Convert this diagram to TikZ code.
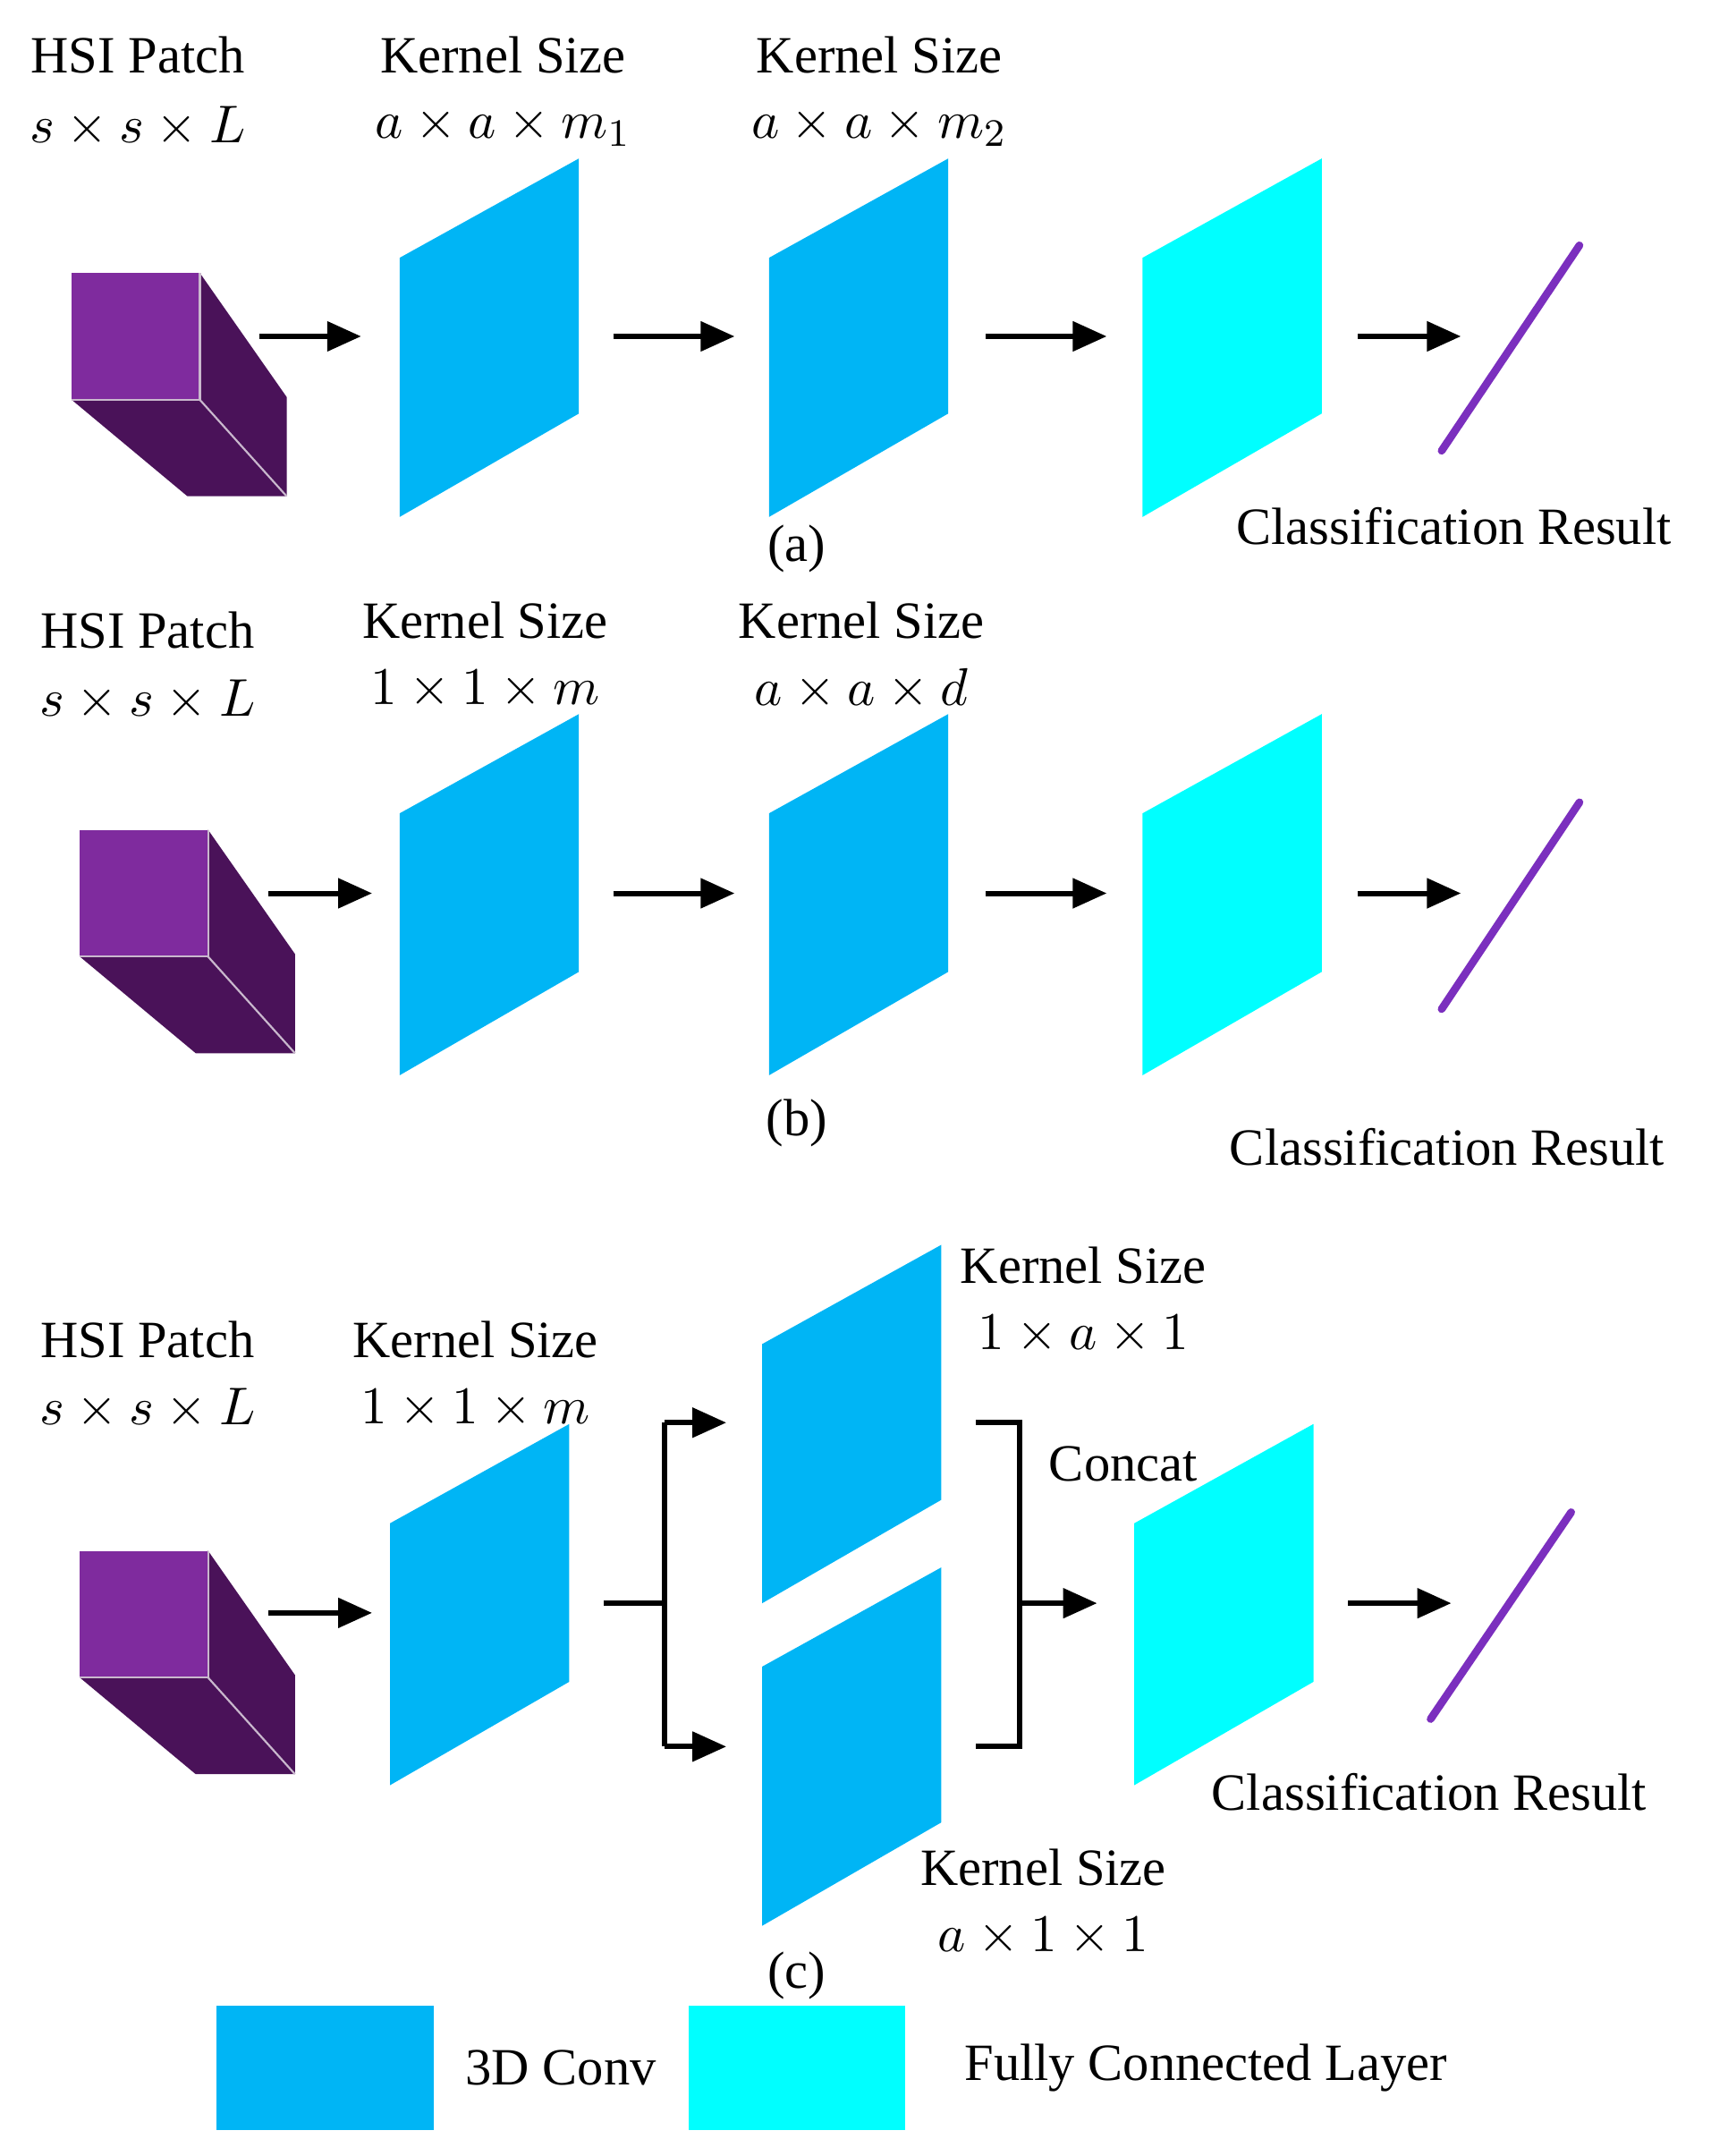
\documentclass[tikz,border=0pt]{standalone}
\usepackage{fontspec}
\setmainfont{Liberation Serif}
\usetikzlibrary{arrows.meta}
\definecolor{conv}{HTML}{00B5F5}
\definecolor{fc}{HTML}{00FFFF}
\definecolor{cubeF}{HTML}{7F2B9E}
\definecolor{cubeD}{HTML}{4A1259}
\definecolor{res}{HTML}{7B2FBE}
\begin{document}
\begin{tikzpicture}[x=0.01cm,y=-0.01cm,
  lbl/.style={font=\fontsize{10.8}{13}\selectfont,inner sep=0pt},
  arr/.style={line width=1.1pt,-{Triangle[length=7pt,width=6pt]}},
  ln/.style={line width=1.1pt},
  resl/.style={res,line width=1.6pt,line cap=round}]
\useasboundingbox (0,0) rectangle (1241,1564);
% cube macro
\newcommand{\mycube}[2]{%
 \begin{scope}[shift={(#1,#2)}]
  \fill[cubeD] (93,0) -- (156,90) -- (156,162) -- (84,162) -- (0,92) -- cycle;
  \fill[cubeF] (0,0) rectangle (93,92);
  \draw[white!70!cubeD,line width=0.4pt] (93,92) -- (156,162);
  \draw[white!70!cubeD,line width=0.4pt] (93,0) -- (93,92) -- (0,92);
 \end{scope}}
\newcommand{\para}[4]{\fill[#1] (#2,#3+72) -- (#2+130,#3) -- (#2+130,#3+#4-75) -- (#2,#3+#4) -- cycle;}
% ===== (a)
\mycube{52}{198}
\para{conv}{290}{115}{260}
\para{conv}{558}{115}{260}
\para{fc}{829}{115}{260}
\coordinate (a1) at (188,244); \coordinate (a2) at (262,244);
\coordinate (a3) at (445,244); \coordinate (a4) at (533,244);
\coordinate (a5) at (715,244); \coordinate (a6) at (803,244);
\coordinate (a7) at (985,244); \coordinate (a8) at (1060,244);
\draw[arr] (a1) -- (a2); \draw[arr] (a3) -- (a4); \draw[arr] (a5) -- (a6); \draw[arr] (a7) -- (a8);
\coordinate (ra) at (1046,327); \coordinate (rb) at (1146,178);
\draw[resl] (ra) -- (rb);
\node[lbl] (ta1) at (100,40) {HSI Patch};
\node[lbl] (ta2) at (100,92) {$s\times s\times L$};
\node[lbl] (ta3) at (365,40) {Kernel Size};
\node[lbl] (ta4) at (365,92) {$a\times a\times m_1$};
\node[lbl] (ta5) at (638,40) {Kernel Size};
\node[lbl] (ta6) at (638,92) {$a\times a\times m_2$};
\node[lbl] (ta7) at (578,398) {(a)};
\node[lbl] (ta8) at (1055,382) {Classification Result};
% ===== (b)
\mycube{58}{602}
\para{conv}{290}{518}{262}
\para{conv}{558}{518}{262}
\para{fc}{829}{518}{262}
\coordinate (b1) at (195,648); \coordinate (b2) at (270,648);
\coordinate (b3) at (445,648); \coordinate (b4) at (533,648);
\coordinate (b5) at (715,648); \coordinate (b6) at (803,648);
\coordinate (b7) at (985,648); \coordinate (b8) at (1060,648);
\draw[arr] (b1) -- (b2); \draw[arr] (b3) -- (b4); \draw[arr] (b5) -- (b6); \draw[arr] (b7) -- (b8);
\coordinate (rc) at (1046,732); \coordinate (rd) at (1146,582);
\draw[resl] (rc) -- (rd);
\node[lbl] (tb1) at (107,457) {HSI Patch};
\node[lbl] (tb2) at (107,508) {$s\times s\times L$};
\node[lbl] (tb3) at (352,450) {Kernel Size};
\node[lbl] (tb4) at (352,500) {$1\times 1\times m$};
\node[lbl] (tb5) at (625,450) {Kernel Size};
\node[lbl] (tb6) at (625,500) {$a\times a\times d$};
\node[lbl] (tb7) at (578,815) {(b)};
\node[lbl] (tb8) at (1050,832) {Classification Result};
% ===== (c)
\mycube{58}{1125}
\para{conv}{283}{1033}{262}
\para{conv}{553}{903}{260}
\para{conv}{553}{1137}{260}
\para{fc}{823}{1033}{262}
\coordinate (c1) at (195,1170); \coordinate (c2) at (270,1170);
\draw[arr] (c1) -- (c2);
\coordinate (s0) at (438,1163); \coordinate (s1) at (482,1163);
\coordinate (s2) at (482,1032); \coordinate (s3) at (482,1267);
\coordinate (s4) at (527,1032); \coordinate (s5) at (527,1267);
\draw[ln] (s0) -- (s1);
\draw[ln] (s2) -- (s3);
\draw[arr] (s2) -- (s4); \draw[arr] (s3) -- (s5);
\coordinate (k1) at (708,1032); \coordinate (k2) at (740,1032);
\coordinate (k3) at (740,1267); \coordinate (k4) at (708,1267);
\draw[ln] (k1) -- (k2) -- (k3) -- (k4);
\coordinate (k5) at (740,1163); \coordinate (k6) at (796,1163);
\draw[arr] (k5) -- (k6);
\coordinate (c7) at (978,1163); \coordinate (c8) at (1053,1163);
\draw[arr] (c7) -- (c8);
\coordinate (re) at (1038,1247); \coordinate (rf) at (1140,1097);
\draw[resl] (re) -- (rf);
\node[lbl] (tc1) at (107,972) {HSI Patch};
\node[lbl] (tc2) at (107,1022) {$s\times s\times L$};
\node[lbl] (tc3) at (345,972) {Kernel Size};
\node[lbl] (tc4) at (345,1022) {$1\times 1\times m$};
\node[lbl] (tc5) at (786,918) {Kernel Size};
\node[lbl] (tc6) at (786,968) {$1\times a\times 1$};
\node[lbl] (tc7) at (815,1062) {Concat};
\node[lbl] (tc8) at (1037,1300) {Classification Result};
\node[lbl] (tc9) at (757,1355) {Kernel Size};
\node[lbl] (tc10) at (757,1405) {$a\times 1\times 1$};
\node[lbl] (tc11) at (578,1433) {(c)};
% legend
\fill[conv] (157,1455) rectangle (315,1545);
\node[lbl] (l1) at (407,1500) {3D Conv};
\fill[fc] (500,1455) rectangle (657,1545);
\node[lbl] (l2) at (875,1500) {Fully Connected Layer};
\end{tikzpicture}
\end{document}
